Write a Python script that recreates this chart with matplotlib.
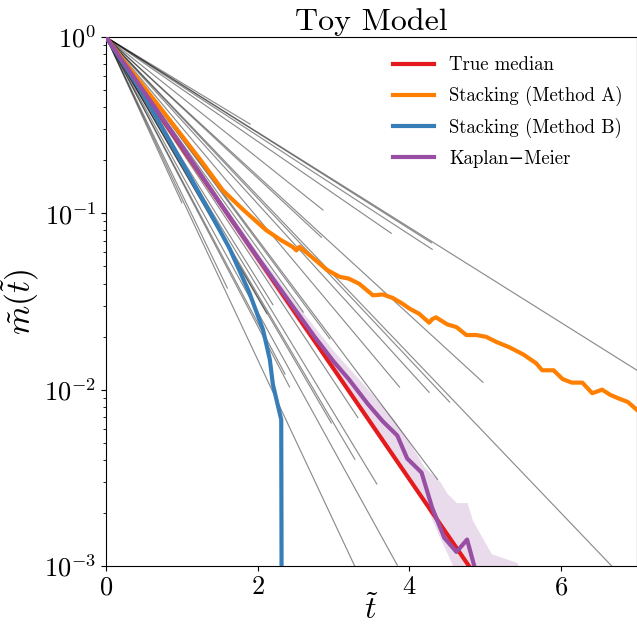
import numpy as np
import matplotlib
matplotlib.use("Agg")
import matplotlib.pyplot as plt

plt.rcParams["font.family"] = ["cmr10", "DejaVu Serif"]
plt.rcParams["mathtext.fontset"] = "cm"
plt.rcParams["axes.unicode_minus"] = False
plt.rcParams["axes.formatter.use_mathtext"] = True

# individual toy curves: decay rate (dex per unit t) and where each stops
gray_rate = [0.260, 0.270, 0.272, 0.280, 0.296, 0.343, 0.394, 0.400, 0.450,
             0.457, 0.473, 0.513, 0.574, 0.580, 0.650, 0.710, 0.730, 0.737,
             0.740, 0.780, 0.810, 0.820, 0.890, 0.915, 0.940, 0.600, 0.690]
gray_tend = [1.90, 7.00, 4.29, 4.30, 3.76, 2.86, 4.97, 2.84, 6.67,
             4.53, 4.26, 3.87, 4.37, 2.95, 3.32, 3.57, 3.28, 2.97,
             2.12, 3.84, 2.36, 2.42, 1.60, 3.28, 1.00, 2.60, 2.20]

# true median decay rate
true_rate = 0.627

# stacking, method A (log10 values)
a_t = [0, 0.35, 0.67, 1.0, 1.25, 1.54, 1.81, 2.11, 2.30, 2.46, 2.51, 2.55, 2.72,
       2.91, 3.08, 3.20, 3.34, 3.52, 3.65, 3.78, 3.90, 4.0, 4.13, 4.26, 4.30,
       4.35, 4.50, 4.62, 4.75, 4.88, 5.01, 5.15, 5.32, 5.50, 5.67, 5.75, 5.90,
       6.02, 6.14, 6.28, 6.41, 6.54, 6.65, 6.76, 6.88, 7.0]
a_log = [0, -0.20, -0.376, -0.56, -0.70, -0.87, -0.98, -1.095, -1.15, -1.19,
         -1.21, -1.19, -1.25, -1.32, -1.36, -1.37, -1.40, -1.465, -1.46, -1.48,
         -1.51, -1.54, -1.57, -1.62, -1.60, -1.59, -1.63, -1.645, -1.69, -1.69,
         -1.70, -1.73, -1.76, -1.80, -1.85, -1.89, -1.89, -1.94, -1.96, -1.96,
         -2.02, -2.00, -2.03, -2.05, -2.07, -2.115]

# stacking, method B
b_t = [0, 0.5, 1.06, 1.48, 1.63, 1.89, 2.07, 2.16, 2.20, 2.31, 2.33]
b_log = [0, -0.33, -0.755, -1.08, -1.20, -1.45, -1.66, -1.83, -1.97, -2.17, -6.0]

# Kaplan-Meier estimate and its band
km_t = [0, 0.5, 1.0, 1.5, 2.0, 2.5, 2.75, 3.0, 3.2, 3.45, 3.65, 3.84, 3.97,
        4.16, 4.30, 4.46, 4.62, 4.76, 4.95]
km_log = [0, -0.31, -0.62, -0.94, -1.25, -1.55, -1.70, -1.84, -1.94, -2.08,
          -2.18, -2.26, -2.39, -2.47, -2.67, -2.84, -2.92, -2.85, -3.15]
band_t = [0, 1.0, 2.0, 2.5, 3.0, 3.5, 3.8, 4.0, 4.2, 4.4, 4.5, 4.62, 4.76,
          4.83, 5.08, 5.42, 5.6]
band_hi = [0, -0.61, -1.22, -1.51, -1.78, -2.02, -2.17, -2.30, -2.44, -2.52,
           -2.59, -2.64, -2.64, -2.74, -2.93, -2.98, -3.3]
band_lo = [0, -0.64, -1.29, -1.60, -1.89, -2.20, -2.38, -2.50, -2.64, -2.84,
           -2.93, -3.05, -3.10, -3.20, -3.30, -3.30, -3.4]

fig = plt.figure(figsize=(6.37, 6.26), dpi=100)
ax = fig.add_axes([0.1664, 0.0958, 0.8336, 0.8451])

for r, te in zip(gray_rate, gray_tend):
    ax.plot([0, te], [1, 10 ** (-r * te)], color="k", alpha=0.45, lw=0.85)

ax.fill_between(band_t, 10 ** np.array(band_lo), 10 ** np.array(band_hi),
                color="#984ea3", alpha=0.2, lw=0)

ax.plot([0, 5.0], [1, 10 ** (-true_rate * 5.0)], color="#e41a1c", lw=3,
        label="True median", zorder=5)
ax.plot(a_t, 10 ** np.array(a_log), color="#ff7f00", lw=3,
        label="Stacking (Method A)", zorder=5)
ax.plot(b_t, 10 ** np.array(b_log), color="#377eb8", lw=3,
        label="Stacking (Method B)", zorder=5)
ax.plot(km_t, 10 ** np.array(km_log), color="#984ea3", lw=3,
        label="Kaplan\u2212Meier", zorder=6)

ax.set_yscale("log")
ax.set_xlim(0, 7)
ax.set_ylim(1e-3, 1)
ax.set_xticks([0, 2, 4, 6])
ax.tick_params(labelsize=19)
ax.set_title("Toy Model", fontsize=23, pad=5)
ax.set_xlabel(r"$\tilde{t}$", fontsize=23, labelpad=-4)
ax.set_ylabel(r"$\tilde{m}(\tilde{t})$", fontsize=24, labelpad=2)
ax.legend(loc="upper right", frameon=False, fontsize=13.5,
          handlelength=2.2, labelspacing=0.62, bbox_to_anchor=(1.005, 0.995))

fig.savefig("out.png")
